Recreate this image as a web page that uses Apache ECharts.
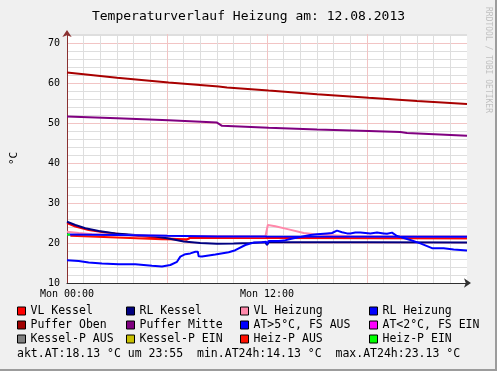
<!DOCTYPE html>
<html>
<head>
<meta charset="utf-8">
<script src="https://cdn.jsdelivr.net/npm/echarts@6/dist/echarts.min.js"></script>
<style>
html,body{margin:0;padding:0;background:#f0f0f0;}
#wrap{position:relative;width:497px;height:371px;}
#chart{position:absolute;left:0;top:0;width:497px;height:371px;}
#frame{position:absolute;left:0;top:0;width:497px;height:371px;box-sizing:border-box;border-right:2px solid #9c9c9c;border-bottom:2px solid #9c9c9c;pointer-events:none;}
</style>
</head>
<body>
<div id="wrap"><div id="chart"></div><div id="frame"></div></div>
<script>
// ---- data (hours since Mon 00:00, °C) ----
const xTickHours = [0, 12];
const xTickLabels = ['Mon 00:00', 'Mon 12:00'];

const pufferObenHours  = [0, 3, 6.1, 9.1, 9.6, 12.1, 15, 18.1, 21, 24];
const pufferObenValues = [62.6, 61.3, 60.1, 59.1, 58.9, 58.1, 57.2, 56.3, 55.5, 54.75];

const pufferMitteHours  = [0, 3, 6.1, 9.0, 9.3, 12.1, 15, 18.1, 20.0, 20.4, 24];
const pufferMitteValues = [51.6, 51.2, 50.7, 50.1, 49.3, 48.8, 48.4, 48.0, 47.75, 47.5, 46.8];

const vlKesselHours  = [0, 0.5, 1.3, 2.3, 3.7, 5.7, 7.2, 7.4, 12, 24];
const vlKesselValues = [25.0, 24.1, 23.25, 22.6, 22.0, 21.2, 20.9, 21.3, 21.25, 21.2];

const rlKesselHours  = [0, 0.5, 1.1, 1.9, 2.9, 4.1, 5.3, 6.1, 7.0, 8.0, 9.0, 10.0, 11.0, 11.9, 12.0, 12.1, 18, 24];
const rlKesselValues = [25.3, 24.5, 23.7, 23.0, 22.4, 22.0, 21.6, 21.1, 20.4, 20.0, 19.8, 19.85, 20.0, 20.2, 19.5, 20.2, 20.2, 20.15];

const vlHeizungHours  = [0, 0.7, 1.5, 3, 6, 11.9, 12.05, 12.5, 13.3, 14.2, 15.0, 17, 24];
const vlHeizungValues = [22.8, 22.5, 22.2, 22.0, 21.8, 21.6, 24.5, 24.2, 23.4, 22.5, 22.1, 21.7, 21.65];

const rlHeizungHours  = [0, 3, 6, 9, 12, 24];
const rlHeizungValues = [22.1, 22.0, 21.8, 21.65, 21.6, 21.55];

const heizPAusHours  = [0.2, 3, 5.7, 7.2, 7.4, 24];
const heizPAusValues = [21.8, 21.4, 20.95, 20.9, 21.3, 21.2];

const heizPEinHours  = [0, 0.18];
const heizPEinValues = [22.1, 22.1];

const atHours  = [0, 0.7, 1.3, 2.1, 3.1, 4.1, 5.1, 5.7, 6.2, 6.6, 6.8, 7.1, 7.4, 7.7, 7.85, 7.9, 8.1, 8.9, 9.7, 10.1, 10.7, 11.2, 11.7, 11.95, 12.0, 12.1, 12.7, 13.0, 13.6, 14.0, 14.6, 15.0, 15.6, 15.9, 16.2, 16.5, 16.8, 17.0, 17.3, 17.6, 17.9, 18.2, 18.6, 19.0, 19.2, 19.5, 19.8, 20.6, 21.2, 21.9, 22.6, 23.2, 24];
const atValues = [15.7, 15.5, 15.1, 14.9, 14.7, 14.7, 14.3, 14.15, 14.5, 15.3, 16.6, 17.2, 17.4, 17.8, 17.8, 16.7, 16.6, 17.1, 17.7, 18.2, 19.5, 20.1, 20.2, 20.3, 19.7, 20.5, 20.5, 20.6, 21.2, 21.5, 22.0, 22.2, 22.4, 22.5, 23.1, 22.7, 22.4, 22.4, 22.6, 22.6, 22.5, 22.4, 22.6, 22.4, 22.3, 22.6, 21.75, 20.75, 19.9, 18.7, 18.7, 18.4, 18.1];

const statsText = 'akt.AT:18.13 °C um 23:55  min.AT24h:14.13 °C  max.AT24h:23.13 °C';

// legend entries (row-major, 4 columns x 3 rows)
const legendNames  = ['VL Kessel', 'RL Kessel', 'VL Heizung', 'RL Heizung',
                      'Puffer Oben', 'Puffer Mitte', 'AT>5°C, FS AUS', 'AT<2°C, FS EIN',
                      'Kessel-P AUS', 'Kessel-P EIN', 'Heiz-P AUS', 'Heiz-P EIN'];
const legendColors = ['#ff0000', '#000080', '#ff88aa', '#0000ff',
                      '#a00000', '#800080', '#0000ff', '#ff00ff',
                      '#808080', '#c8c000', '#ff1000', '#00ff00'];

// ---- build ----
const pairs = (h, v) => h.map((x, i) => [x, v[i]]);
const FONT = 'DejaVu Sans Mono';
const colorOf = n => legendColors[legendNames.indexOf(n)];

function lineSeries(name, h, v, color, z) {
  return {
    name: name, type: 'line', data: pairs(h, v),
    showSymbol: false, symbol: 'none', z: z,
    itemStyle: { color: color },
    lineStyle: { color: color, width: 2 },
    emphasis: { disabled: true }
  };
}

const series = [
  lineSeries('Heiz-P AUS', heizPAusHours, heizPAusValues, '#ff1000', 2),
  lineSeries('VL Kessel', vlKesselHours, vlKesselValues, '#ff0000', 3),
  lineSeries('RL Kessel', rlKesselHours, rlKesselValues, '#000080', 4),
  lineSeries('VL Heizung', vlHeizungHours, vlHeizungValues, '#ff88aa', 5),
  lineSeries('RL Heizung', rlHeizungHours, rlHeizungValues, '#0000ff', 6),
  lineSeries('Puffer Oben', pufferObenHours, pufferObenValues, '#a80000', 7),
  lineSeries('Puffer Mitte', pufferMitteHours, pufferMitteValues, '#800080', 8),
  lineSeries('AT>5°C, FS AUS', atHours, atValues, '#0000ff', 9),
  lineSeries('AT<2°C, FS EIN', [], [], '#ff00ff', 9),
  lineSeries('Kessel-P AUS', [], [], '#808080', 9),
  lineSeries('Kessel-P EIN', [], [], '#c8c000', 9),
  lineSeries('Heiz-P EIN', heizPEinHours, heizPEinValues, '#00ff00', 10)
];

const colLeft = [17, 126, 240, 369];
const rowCenter = [311, 325, 339];
const legends = legendNames.map((n, i) => ({
  data: [n],
  left: colLeft[i % 4],
  top: rowCenter[Math.floor(i / 4)] - 7,
  padding: 0,
  icon: 'rect',
  itemWidth: 8, itemHeight: 8,
  selectedMode: false,
  itemStyle: { color: colorOf(n), borderColor: '#000', borderWidth: 1 },
  textStyle: { fontFamily: FONT, fontSize: 11.5, color: '#000', lineHeight: 14 }
}));

const MAJOR = '#f2c4c4', MINOR = '#dedede';
const xSplitColors = [];
for (let i = 0; i <= 24; i++) xSplitColors.push(i === 24 ? 'rgba(0,0,0,0)' : (i % 6 === 0 ? MAJOR : MINOR));
const ySplitColors = [MAJOR, MINOR, MINOR, MINOR, MINOR];

const chart = echarts.init(document.getElementById('chart'), null, { renderer: 'canvas' });
chart.setOption({
  animation: false,
  backgroundColor: '#f0f0f0',
  title: [
    { text: 'Temperaturverlauf Heizung am: 12.08.2013', left: 'center', top: 9, padding: 0,
      textStyle: { fontFamily: FONT, fontSize: 13, fontWeight: 'normal', color: '#000', lineHeight: 16 } },
    { text: statsText, left: 17, top: 347, padding: 0,
      textStyle: { fontFamily: FONT, fontSize: 11.5, fontWeight: 'normal', color: '#000', lineHeight: 14 } }
  ],
  graphic: [
    { type: 'text', x: 492, y: 7, rotation: -Math.PI / 2, silent: true,
      style: { text: 'RRDTOOL / TOBI OETIKER', fontFamily: FONT, fontSize: 8, fill: '#c0c0c0',
               textAlign: 'left', textVerticalAlign: 'top' } }
  ],
  legend: legends,
  grid: { left: 67, right: 30, top: 34, bottom: 88, containLabel: false, outerBoundsMode: 'none',
          show: true, backgroundColor: '#ffffff', borderWidth: 0 },
  xAxis: {
    type: 'value', min: 0, max: 24, interval: 1,
    axisLine: { show: true, onZero: false, lineStyle: { color: '#303030', width: 1 },
                symbol: ['none', 'arrow'], symbolSize: [7, 7], symbolOffset: [0, 4] },
    axisTick: { show: false },
    axisLabel: {
      margin: 6, fontFamily: FONT, fontSize: 10, color: '#000',
      formatter: v => { const i = xTickHours.indexOf(v); return i >= 0 ? xTickLabels[i] : ''; }
    },
    splitLine: { show: true, lineStyle: { color: xSplitColors, width: 1 } }
  },
  yAxis: {
    type: 'value', min: 10, max: 72.25, interval: 2,
    name: '°C', nameLocation: 'middle', nameRotate: 90, nameGap: 47,
    nameTextStyle: { fontFamily: FONT, fontSize: 11, color: '#000' },
    axisLine: { show: true, lineStyle: { color: '#8a3030', width: 1 },
                symbol: ['none', 'arrow'], symbolSize: [7, 7], symbolOffset: [0, 4] },
    axisTick: { show: false },
    axisLabel: {
      margin: 7, fontFamily: FONT, fontSize: 10, color: '#000',
      formatter: v => (Math.abs(v % 10) < 1e-9 ? String(v) : '')
    },
    splitLine: { show: true, lineStyle: { color: ySplitColors, width: 1 } }
  },
  series: series
});
</script>
</body>
</html>
